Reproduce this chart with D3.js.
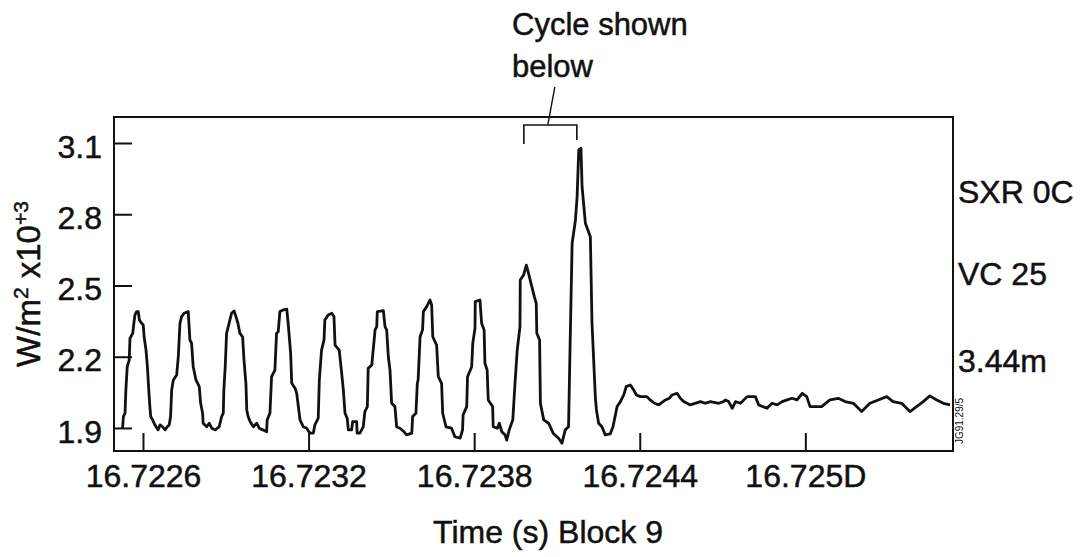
<html>
<script src="https://d3js.org/d3.v7.min.js"></script>
<style>
body { margin: 0; background: #fff; }
text { font-family: "Liberation Sans", Arial, Helvetica, sans-serif; fill: #111; stroke: #111; stroke-width: 0.5px; }
</style>
<body>
<svg width="1085" height="557"></svg>
<script>
// time offsets in microseconds after 16.7225 s
const T0 = 16.7225;
const timeUs = [26,29,35,38,43,50,53,63,67,71,77,83,87,95,101,104,111,116,121,125,128,135,143,155,162,171,180,188,195,200,
204,210,222,228,234,240,249,264,270,276,282,292,304,309,316,318,331,340,349,361,376,385,391,393,398,403,409,421,430,437,
444,451,461,466,473,476,481,488,500,512,521,534,548,550,560,566,578,584,590,596,608,621,626,635,639,651,657,663,669,681,
693,705,717,723,735,739,747,756,759,771,784,792,796,811,820,826,832,840,844,856,860,874,876,886,898,904,913,916,929,941,
947,949,971,977,983,989,995,1001,1013,1019,1031,1046,1055,1074,1077,1089,1094,1097,1104,1113,1116,1128,1140,1146,1150,1164,
1170,1182,1186,1198,1218,1230,1249,1258,1260,1273,1276,1291,1295,1303,1304,1321,1327,1336,1339,1347,1351,1367,1369,1384,
1391,1400,1412,1418,1427,1440,1448,1456,1466,1467,1479,1489,1497,1506,1518,1525,1527,1537,1540,1552,1570,1586,1606,1618,
1630,1642,1648,1655,1667,1673,1679,1687,1691,1703,1721,1727,1739,1743,1751,1763,1775,1793,1803,1818,1830,1842,1851,1866,
1878,1888,1902,1926,1938,1953,1969,1993,2007,2017,2035,2047,2059,2083,2120,2137,2156,2186,2204,2210,2222,2235,2247,2265,2289,
2319,2331,2361,2379,2398,2416,2434,2452,2470,2489,2505,2517,2559,2589,2619,2644,2674,2704,2734,2764,2795,2818,2849,2879,
2903,2927,2951,2976,3000,3024];
// SXR intensity, W/m^2 x10^3
const sxr = [1.899,1.948,1.962,2.06,2.158,2.186,2.278,2.299,2.341,2.376,2.39,2.39,2.355,2.341,2.334,2.284,2.228,2.158,2.06,1.99,
1.948,1.934,1.913,1.892,1.913,1.905,1.892,1.905,1.913,1.948,2.06,2.102,2.123,2.2,2.341,2.369,2.383,2.39,2.271,2.257,
2.158,2.102,2.074,2.004,1.962,1.92,1.905,1.92,1.899,1.892,1.905,1.948,1.962,2.06,2.158,2.299,2.327,2.383,2.393,2.369,
2.341,2.299,2.284,2.186,2.088,1.976,1.948,1.927,1.905,1.92,1.899,1.892,1.884,1.934,1.962,2.116,2.144,2.299,2.305,2.39,
2.397,2.4,2.341,2.215,2.088,2.067,2.046,1.99,1.934,1.905,1.899,1.878,1.878,1.913,1.941,2.102,2.228,2.271,2.355,2.376,
2.383,2.369,2.249,2.228,2.13,2.06,1.962,1.941,1.892,1.892,1.927,1.927,1.878,1.878,1.905,1.969,1.99,2.151,2.165,2.313,
2.327,2.39,2.394,2.327,2.313,2.2,2.144,2.004,1.99,1.905,1.899,1.884,1.871,1.878,1.948,1.962,2.088,2.102,2.284,2.313,
2.39,2.411,2.439,2.418,2.284,2.249,2.116,2.088,1.962,1.905,1.899,1.863,1.857,1.892,1.955,1.99,2.116,2.158,2.257,2.32,
2.432,2.439,2.341,2.313,2.172,2.144,2.018,1.99,1.905,1.899,1.92,1.884,1.871,1.849,1.892,1.934,2.088,2.228,2.327,2.523,
2.544,2.586,2.551,2.509,2.453,2.425,2.299,2.271,2.004,1.934,1.92,1.878,1.857,1.836,1.892,1.905,2.271,2.678,2.776,2.874,
3.071,3.078,2.916,2.762,2.705,2.341,2.032,1.976,1.92,1.905,1.871,1.875,1.905,1.99,2.011,2.039,2.074,2.081,2.06,2.039,
2.032,2.032,2.018,2.004,1.997,2.018,2.025,2.039,2.046,2.025,2.011,1.997,2.011,2.004,2.011,2.004,2.011,2.018,2.011,1.983,2.011,2.004,2.032,
2.032,1.997,1.983,2.004,1.997,2.011,2.018,2.025,2.018,2.046,2.032,1.99,1.99,2.018,2.025,2.011,2.004,1.969,2.004,2.018,2.032,2.011,2.004,1.969,
1.99,2.011,2.035,2.018,2.004,1.997];

const xTicks = [16.7226, 16.7232, 16.7238, 16.7244, 16.7250];
const xTickLabels = ["16.7226", "16.7232", "16.7238", "16.7244", "16.725D"];
const yTicks = [1.9, 2.2, 2.5, 2.8, 3.1];
const yTickLabels = ["1.9", "2.2", "2.5", "2.8", "3.1"];
const sideLabels = ["SXR 0C", "VC 25", "3.44m"];
const sideLabelLevels = [2.847, 2.502, 2.136];
// bracket marking the cycle shown below: [start us, end us], top level, leg ends
const cycleBracket = [1480, 1672];
const bracketLevels = [3.176, 3.096, 3.113];

const svg = d3.select("svg");
const margin = {left: 114, top: 117};
const W = 839, H = 334;

const x = d3.scaleLinear().domain([16.722495, 16.725535]).range([0, W]);
const y = d3.scaleLinear().domain([1.803, 3.2095]).range([H, 0]);

const g = svg.append("g").attr("transform", "translate(" + margin.left + "," + margin.top + ")");

const pts = timeUs.map(function(u, i) { return [T0 + u * 1e-6, sxr[i]]; });

// trace
g.append("path")
  .datum(pts)
  .attr("fill", "none")
  .attr("stroke", "#111")
  .attr("stroke-width", 2.8)
  .attr("stroke-linejoin", "round")
  .attr("d", d3.line().x(function(d) { return x(d[0]); }).y(function(d) { return y(d[1]); }));

// axes with inward ticks
const xAxis = g.append("g")
  .attr("transform", "translate(0," + H + ")")
  .call(d3.axisBottom(x).tickValues(xTicks).tickSizeInner(-18).tickSizeOuter(0).tickPadding(13)
        .tickFormat(function(d, i) { return xTickLabels[i]; }));
const yAxis = g.append("g")
  .call(d3.axisLeft(y).tickValues(yTicks).tickSizeInner(-18).tickSizeOuter(0).tickPadding(12)
        .tickFormat(function(d, i) { return yTickLabels[i]; }));

[xAxis, yAxis].forEach(function(a) {
  a.select(".domain").remove();
  a.selectAll(".tick line").attr("stroke", "#111").attr("stroke-width", 2);
  a.selectAll(".tick text").attr("font-size", "32px").attr("fill", "#111")
    .attr("font-family", "'Liberation Sans', Arial, sans-serif");
});
yAxis.selectAll(".tick text").attr("dy", "0.44em");
xAxis.selectAll(".tick text").attr("dy", "0.72em");

// frame
g.append("rect")
  .attr("x", 0).attr("y", 0).attr("width", W).attr("height", H)
  .attr("fill", "none").attr("stroke", "#111").attr("stroke-width", 2);

// right side labels
g.selectAll(".side")
  .data(sideLabels).enter()
  .append("text")
  .attr("x", W + 5)
  .attr("y", function(d, i) { return y(sideLabelLevels[i]); })
  .attr("font-size", "32px")
  .text(function(d) { return d; });

// bracket + leader
const bx0 = x(T0 + cycleBracket[0] * 1e-6), bx1 = x(T0 + cycleBracket[1] * 1e-6);
g.append("path")
  .attr("fill", "none").attr("stroke", "#111").attr("stroke-width", 1.6)
  .attr("d", "M" + bx0 + "," + y(bracketLevels[1]) + "V" + y(bracketLevels[0]) + "H" + bx1 + "V" + y(bracketLevels[2]));
g.append("line")
  .attr("x1", bx0 + 24).attr("y1", y(bracketLevels[0]))
  .attr("x2", bx0 + 31).attr("y2", y(bracketLevels[0]) - 38)
  .attr("stroke", "#111").attr("stroke-width", 1.4);

svg.append("text").attr("x", 512).attr("y", 35).attr("font-size", "31px").text("Cycle shown");
svg.append("text").attr("x", 512).attr("y", 77).attr("font-size", "31px").text("below");

// axis titles
svg.append("text")
  .attr("x", 548).attr("y", 543)
  .attr("text-anchor", "middle")
  .attr("font-size", "32px")
  .text("Time (s) Block 9");

const yl = svg.append("text")
  .attr("transform", "translate(40,284) rotate(-90)")
  .attr("text-anchor", "middle")
  .attr("font-size", "33px");
yl.append("tspan").text("W/m");
yl.append("tspan").attr("font-size", "21px").attr("dy", "-12").text("2");
yl.append("tspan").attr("dy", "12").text(" x10");
yl.append("tspan").attr("font-size", "21px").attr("dy", "-12").text("+3");

// figure id
svg.append("text")
  .attr("transform", "translate(963,421) rotate(-90)")
  .attr("text-anchor", "middle")
  .attr("font-size", "10px")
  .style("stroke-width", "0px")
  .text("JG91.29/5");
</script>
</body>
</html>
